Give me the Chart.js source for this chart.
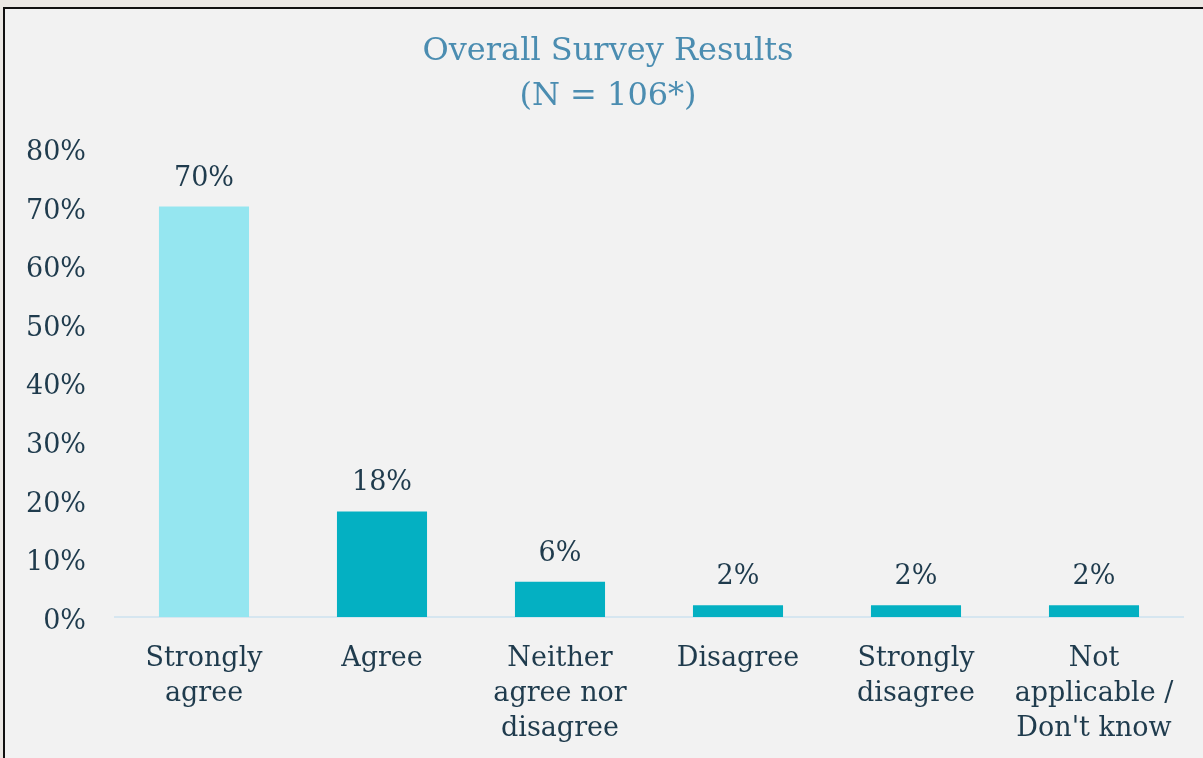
<!DOCTYPE html>
<html>
<head>
<meta charset="utf-8">
<title>Overall Survey Results</title>
<script src="https://cdn.jsdelivr.net/npm/chart.js@4"></script>
<style>
html, body { margin: 0; padding: 0; background: #ebe8e4; overflow: hidden; }
#frame {
    position: absolute;
    left: 3px;
    top: 7px;
    width: 1198px;
    height: 749px;
    border-top: 2px solid #111;
    border-left: 2px solid #111;
    background: #f2f2f2;
}
canvas { display: block; }
</style>
</head>
<body>
<div id="frame">
    <canvas id="surveyChart" width="1198" height="749"></canvas>
</div>
<script>
const categories = [
    ['Strongly', 'agree'],
    ['Agree'],
    ['Neither', 'agree nor', 'disagree'],
    ['Disagree'],
    ['Strongly', 'disagree'],
    ['Not', 'applicable /', "Don't know"]
];
const percentages = [70, 18, 6, 2, 2, 2];
const barColors = ['#95e6f0', '#04b0c2', '#04b0c2', '#04b0c2', '#04b0c2', '#04b0c2'];
const titleLines = ['Overall Survey Results', '(N = 106*)'];

const FONT = "'DejaVu Serif', 'Liberation Serif', serif";
const TEXT = '#1f3b4d';

// value labels above each bar
const barLabels = {
    id: 'barLabels',
    afterDatasetsDraw(chart) {
        const ctx = chart.ctx;
        const meta = chart.getDatasetMeta(0);
        ctx.save();
        ctx.font = '27px ' + FONT;
        ctx.fillStyle = TEXT;
        ctx.textAlign = 'center';
        ctx.textBaseline = 'middle';
        meta.data.forEach((bar, i) => {
            ctx.fillText(percentages[i] + '%', bar.x, bar.y - 28);
        });
        ctx.restore();
    }
};

// nudge the title block so it centres a little right of the canvas middle
const titleShift = {
    id: 'titleShift',
    afterLayout(chart) {
        if (chart.titleBlock) chart.titleBlock.left = 28;
    }
};

const ctx = document.getElementById('surveyChart').getContext('2d');
new Chart(ctx, {
    type: 'bar',
    data: {
        labels: categories,
        datasets: [{
            data: percentages,
            backgroundColor: barColors,
            borderWidth: 0,
            categoryPercentage: 1,
            barPercentage: 0.506
        }]
    },
    options: {
        responsive: false,
        animation: false,
        layout: { padding: { left: 0, right: 20, top: 0, bottom: 0 } },
        plugins: {
            legend: { display: false },
            tooltip: { enabled: false },
            title: {
                display: true,
                text: titleLines,
                color: '#4b8db1',
                font: { family: FONT, size: 32, weight: 'normal', lineHeight: 1.42 },
                padding: { top: 20, bottom: 28 }
            }
        },
        scales: {
            x: {
                grid: { display: false, drawTicks: false },
                border: { display: true, color: '#d6e6f0', width: 2 },
                ticks: {
                    color: TEXT,
                    font: { family: FONT, size: 27, lineHeight: 1.3 },
                    padding: 24,
                    maxRotation: 0,
                    autoSkip: false
                },
                afterFit: (s) => { s.height = 141; }
            },
            y: {
                min: 0,
                max: 80,
                grid: { display: false, drawTicks: false },
                border: { display: false },
                ticks: {
                    stepSize: 10,
                    color: TEXT,
                    font: { family: FONT, size: 27 },
                    padding: 29,
                    labelOffset: 5,
                    callback: (v) => v + '%'
                },
                afterFit: (s) => { s.width = 110; }
            }
        }
    },
    plugins: [barLabels, titleShift]
});
</script>
</body>
</html>
